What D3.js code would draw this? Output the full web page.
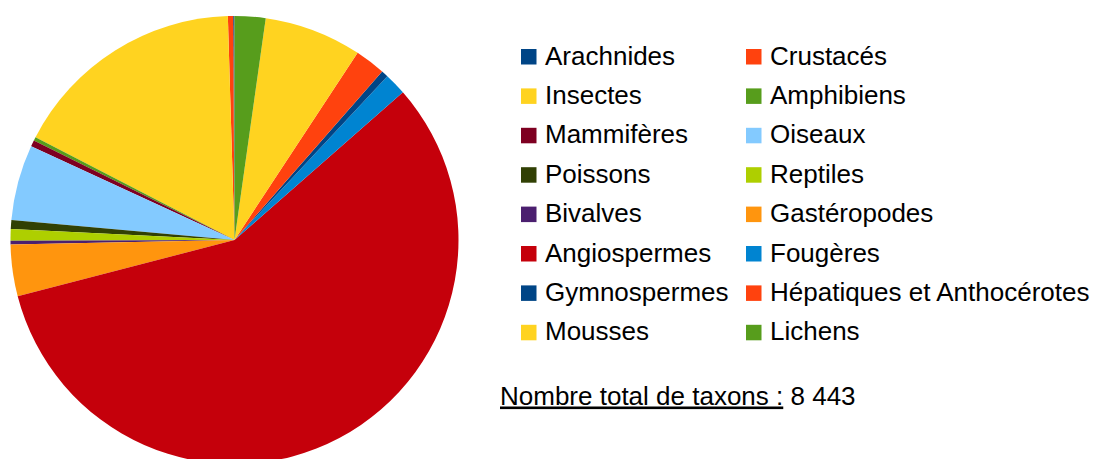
<!DOCTYPE html>
<html lang="fr">
<head>
    <meta charset="UTF-8">
    <title>Taxons</title>
    <script src="https://d3js.org/d3.v7.min.js"></script>
    <style>
        body { margin: 0; background: #ffffff; }
        .legend_text { font-family: "Liberation Sans", Arial, sans-serif; font-size: 26px; fill: #000; }
    </style>
</head>
<body>
<svg width="1093" height="459"></svg>
<script>
    // groupes, dans l'ordre du tableur
    const groups = ["Arachnides", "Crustacés", "Insectes", "Amphibiens", "Mammifères", "Oiseaux",
        "Poissons", "Reptiles", "Bivalves", "Gastéropodes", "Angiospermes", "Fougères",
        "Gymnospermes", "Hépatiques et Anthocérotes", "Mousses", "Lichens"];
    const counts = [8, 32, 1430, 22, 38, 461, 54, 70, 23, 314, 4848, 134, 42, 185, 594, 188];
    const palette = ["#004586", "#ff420e", "#ffd320", "#579d1c", "#7e0021", "#83caff",
        "#314004", "#aecf00", "#4b1f6f", "#ff950e", "#c5000b", "#0084d1"];
    const totalLabel = "Nombre total de taxons :";
    const totalValue = "8 443";

    let svg = d3.select("svg");
    const data = groups.map((g, i) => ({name: g, value: counts[i]}));
    const color = d3.scaleOrdinal().domain(groups).range(palette);

    // camembert : départ en haut, sens anti-horaire
    const pie = d3.pie().sort(null).value(d => d.value)
        .startAngle(0).endAngle(-2 * Math.PI);
    const arc = d3.arc().innerRadius(0).outerRadius(224);

    svg.append("g")
        .attr("transform", "translate(234.5,240)")
        .selectAll("path")
        .data(pie(data))
        .enter()
        .append("path")
        .attr("d", arc)
        .attr("fill", d => color(d.data.name));

    // légende sur deux colonnes
    const col = d3.scalePoint().domain([0, 1]).range([521, 746]);
    const row = d3.scaleLinear().domain([0, 1]).range([49, 88.4]);

    let legend = svg.append("g").selectAll("g")
        .data(data)
        .enter()
        .append("g")
        .attr("transform", (d, i) => `translate(${col(i % 2)},${row(Math.floor(i / 2))})`);

    legend.append("rect")
        .attr("width", 15.5).attr("height", 15.5)
        .attr("fill", d => color(d.name));

    legend.append("text")
        .attr("class", "legend_text")
        .attr("x", 24).attr("y", 15.5)
        .text(d => d.name);

    let total = svg.append("text")
        .attr("class", "legend_text")
        .attr("x", 500).attr("y", 404.5);
    total.append("tspan").attr("text-decoration", "underline").text(totalLabel);
    total.append("tspan").text(" " + totalValue);
</script>
</body>
</html>
